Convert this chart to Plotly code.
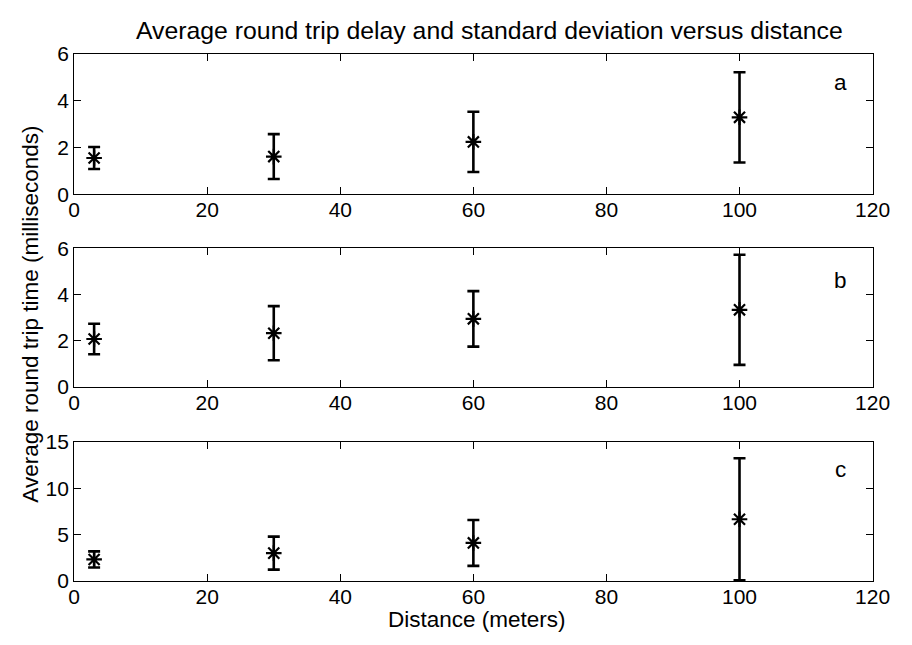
import plotly.graph_objects as go
from plotly.subplots import make_subplots

distance = [3, 30, 60, 100]
mean_a = [1.55, 1.61, 2.24, 3.29]
std_a = [0.47, 0.96, 1.29, 1.93]
mean_b = [2.08, 2.33, 2.95, 3.34]
std_b = [0.66, 1.17, 1.20, 2.38]
mean_c = [2.32, 3.00, 4.10, 6.65]
std_c = [0.87, 1.78, 2.47, 6.58]
panel_labels = ["a", "b", "c"]
y_ranges = [[0, 6], [0, 6], [0, 15]]
y_ticks = [[0, 2, 4, 6], [0, 2, 4, 6], [0, 5, 10, 15]]
x_ticks = [0, 20, 40, 60, 80, 100, 120]

W, H = 912, 645
FONT = "Liberation Sans"
TICK_SIZE = 21
LABEL_SIZE = 22.5
TITLE_SIZE = 24.8


def px(x):
    return x / W


def py(y):
    return 1 - y / H


fig = make_subplots(rows=3, cols=1)

series = [(mean_a, std_a), (mean_b, std_b), (mean_c, std_c)]
for i, (m, s) in enumerate(series):
    fig.add_trace(go.Scatter(
        x=distance, y=m, mode="markers",
        marker=dict(symbol="asterisk-open", size=13, color="black",
                    line=dict(color="black", width=2.2)),
        error_y=dict(type="data", array=s, visible=True, color="black",
                     thickness=2.6, width=6),
        showlegend=False,
    ), row=i + 1, col=1)

# pixel geometry of axes boxes (top, bottom) in reference pixels
boxes = [(43.5, 189), (245, 389), (445.7, 590)]
left, right = 70, 890
label_y = [73, 278, 474]

for i, (top, bot) in enumerate(boxes):
    ax = "" if i == 0 else str(i + 1)
    fig.layout["xaxis" + ax].update(
        domain=[px(left), px(right)], range=[0, 120], tickvals=x_ticks,
        ticks="inside", ticklen=7, tickwidth=1, tickcolor="black",
        showline=True, linecolor="black", linewidth=1, mirror="ticks",
        showgrid=False, zeroline=False, ticklabelstandoff=-3,
        tickfont=dict(family=FONT, size=TICK_SIZE, color="black"),
    )
    fig.layout["yaxis" + ax].update(
        domain=[py(bot), py(top)], range=y_ranges[i], tickvals=y_ticks[i],
        ticks="inside", ticklen=7, tickwidth=1, tickcolor="black",
        showline=True, linecolor="black", linewidth=1, mirror="ticks",
        showgrid=False, zeroline=False,
        tickfont=dict(family=FONT, size=TICK_SIZE, color="black"),
    )
    fig.add_annotation(
        x=(856.7 - left) / (right - left), y=1 - (label_y[i] - top) / (bot - top),
        xref=("x" + ax + " domain"), yref=("y" + ax + " domain"),
        text=panel_labels[i], showarrow=False,
        font=dict(family=FONT, size=LABEL_SIZE, color="black"),
        xanchor="center", yanchor="middle",
    )

fig.add_annotation(
    x=px(497), y=py(19), xref="paper", yref="paper",
    text="Average round trip delay and standard deviation versus distance",
    showarrow=False, font=dict(family=FONT, size=TITLE_SIZE, color="black"),
    xanchor="center", yanchor="middle",
)
fig.add_annotation(
    x=px(484), y=py(630), xref="paper", yref="paper",
    text="Distance (meters)", showarrow=False,
    font=dict(family=FONT, size=LABEL_SIZE, color="black"),
    xanchor="center", yanchor="middle",
)
fig.add_annotation(
    x=px(25), y=py(313.5), xref="paper", yref="paper",
    text="Average round trip time (milliseconds)", showarrow=False, textangle=-90,
    font=dict(family=FONT, size=LABEL_SIZE, color="black"),
    xanchor="center", yanchor="middle",
)

fig.update_layout(
    width=W, height=H, margin=dict(l=0, r=0, t=0, b=0),
    paper_bgcolor="white", plot_bgcolor="white",
)

fig.write_html("out.html")
